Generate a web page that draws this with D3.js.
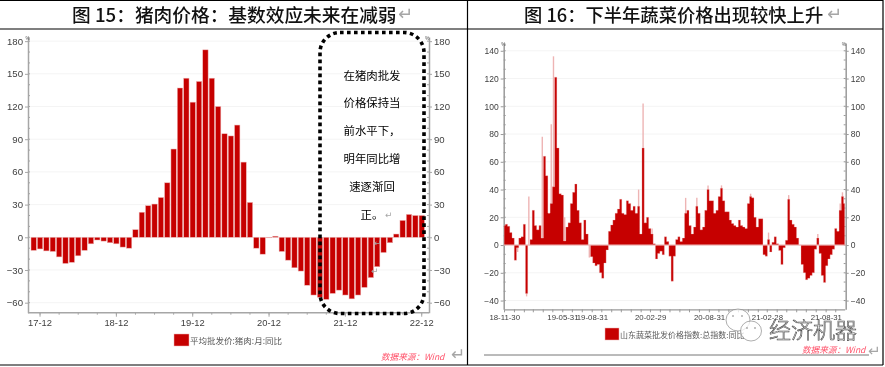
<!DOCTYPE html>
<html>
<head>
<meta charset="utf-8">
<script src="https://cdnjs.cloudflare.com/ajax/libs/d3/7.8.5/d3.min.js"></script>
<style>
	html, body { margin: 0; padding: 0; background: #fff; }
	svg { display: block; filter: blur(0.3px); }
	text { font-family: "Liberation Sans", "Noto Sans CJK SC", sans-serif; }
	.cjk { font-family: "Noto Sans CJK SC", sans-serif; }
	.arrow { font-family: "DejaVu Sans", sans-serif; fill: #a6a6a6; }
</style>
</head>
<body>
<svg id="chart" width="885" height="367"></svg>
<script>
// figure 15: pork wholesale price, monthly yoy
const porkMonths = [
	"17-11","17-12","18-01","18-02","18-03","18-04","18-05","18-06","18-07","18-08","18-09","18-10","18-11","18-12",
	"19-01","19-02","19-03","19-04","19-05","19-06","19-07","19-08","19-09","19-10","19-11","19-12",
	"20-01","20-02","20-03","20-04","20-05","20-06","20-07","20-08","20-09","20-10","20-11","20-12",
	"21-01","21-02","21-03","21-04","21-05","21-06","21-07","21-08","21-09","21-10","21-11","21-12",
	"22-01","22-02","22-03","22-04","22-05","22-06","22-07","22-08","22-09","22-10","22-11","22-12"
];
const porkValues = [
	-12,-10.7,-12.5,-13,-18,-24,-23,-17,-12,-6,-2.5,-3.5,-5,-6,
	-9,-10,7,23,29,30.5,36.5,50,81,137,146,124,
	143,172,146,120,95,93,103,69,32,-10,-15.5,-0.5,
	1,-13,-21,-28,-31,-44,-53,-55,-57,-51.5,-48.5,-53,
	-56.5,-53,-46,-37,-27,-14,-5,3,15.5,21,20,20
];
const porkTicks = [-60,-30,0,30,60,90,120,150,180];
const porkLabels = ["17-12","18-12","19-12","20-12","21-12","22-12"];
const noteLines = ["在猪肉批发","价格保持当","前水平下，","明年同比增","速逐渐回","正。"];

const vegStart = "2018-11-30";
const vegValues = [
	14,15,13.5,9,5,-11,-2,5,6,15,-35,0,4,25,14,11,14,5,
	64,50,23,30,42,121,70,37,36,3,13,16,30,38,44,25,16,4,
	18,8,0,-8.5,-13,-15,-14,-20,-24,-13,-3.5,10,14.5,18,23,26,33,23,22,32,30,25,28,23,
	28,8,70,16,20,12,8,1,-10,-6,-4.5,-7,6,2.5,-8,-26,-8,4,6,2.5,5,
	23,25,14,8,13,28,23,11,13,25,40,32,32,23,25,35,41,32,24,24,18,15.5,14,13,18,14,13,12,
	30,35,34,20,13,19,19,-7,-8,4,-5,2,6,1,-4,-14,-2,3.5,33,18,15,13,5,0,
	-14,-20,-25,-24,-22,-20,-3,5,-6,-22,-27,-15,-10,-7,-3,12,10,25,35,30
];
// short spikes that show up paler than the body of the area
const vegSpikeWeeks = [6,10,11,17,18,21,22,23,24,27,38,60,62,66,81,86,91,97,110,118,127,140,150,151];
const vegSpikeValues = [-5,-37,35,78,55,87,136,58,58,20,-9,40,102,12,34,34,43,43,37,9,36,8,30,38];
const vegTicks = [-40,-20,0,20,40,60,80,100,120,140];
const vegLabelDates = ["2018-11-30","2019-05-31","2019-08-31","2020-02-29","2020-08-31","2021-02-28","2021-08-31"];

const red = "#c60000";
const pale = "#eeb4b4";
const axisGrey = "#a6a6a6";
const labelGrey = "#404040";
const parseDay = d3.timeParse("%Y-%m-%d");
const svg = d3.select("#chart");

// left and right value axes with the grid between them, minor ticks on every third of a step
function drawValueAxes(g, y, ticks, left, right, top, bottom, fontSize, axisColor) {
	const step = ticks[1] - ticks[0];
	const minor = [];
	ticks.forEach((t) => { [0, 1, 2].forEach((k) => { minor.push(t + k * step / 3); }); });
	minor.push(ticks[0] - step / 3, ticks[0] - 2 * step / 3);
	const minorTicks = minor.filter((v) => v > y.domain()[0] && v < y.domain()[1]);

	g.append("g").selectAll("line").data(ticks).enter().append("line")
		.attr("x1", left).attr("x2", right)
		.attr("y1", (d) => y(d)).attr("y2", (d) => y(d))
		.attr("stroke", "#f4f4f4");

	[[left, d3.axisLeft, 2], [right, d3.axisRight, -2]].forEach((a) => {
		const ax = g.append("g").attr("transform", "translate(" + a[0] + ",0)")
			.call(a[1](y).tickValues(ticks).tickSizeInner(3).tickSizeOuter(0).tickPadding(2).tickFormat(d3.format("d")));
		ax.select(".domain").attr("stroke", axisColor).attr("stroke-width", 1.5);
		ax.selectAll(".tick line").attr("stroke", axisColor);
		ax.selectAll("text").attr("fill", labelGrey).attr("font-size", fontSize)
			.attr("font-family", "Liberation Sans");
		ax.append("g").selectAll("line").data(minorTicks).enter().append("line")
			.attr("x1", 0).attr("x2", a[2])
			.attr("y1", (d) => y(d)).attr("y2", (d) => y(d))
			.attr("stroke", axisColor);
		ax.append("text").attr("x", a[2] > 0 ? 2 : -4).attr("y", top + 3)
			.attr("font-size", 5).attr("fill", "#555").text("%");
	});
}

function drawFrame() {
	const lines = [
		[0, 0.5, 883, 0.5], [0, 29, 883, 29], [0, 365, 883, 365],
		[467.5, 0, 467.5, 365], [883, 0, 883, 365]
	];
	svg.append("g").selectAll("line").data(lines).enter().append("line")
		.attr("x1", (d) => d[0]).attr("y1", (d) => d[1])
		.attr("x2", (d) => d[2]).attr("y2", (d) => d[3])
		.attr("stroke", "#000").attr("stroke-width", 1.2);

	svg.append("text").attr("class", "cjk").attr("x", 72).attr("y", 22)
		.attr("font-size", 18.7).attr("font-weight", 500).attr("fill", "#111")
		.text("图 15：猪肉价格：基数效应未来在减弱");
	svg.append("text").attr("class", "arrow").attr("x", 398).attr("y", 20).attr("font-size", 18).text("↵");
	svg.append("text").attr("class", "cjk").attr("x", 524).attr("y", 22)
		.attr("font-size", 18.3).attr("font-weight", 500).attr("fill", "#111")
		.text("图 16：下半年蔬菜价格出现较快上升");
	svg.append("text").attr("class", "arrow").attr("x", 827).attr("y", 20).attr("font-size", 18).text("↵");
}

function drawPork() {
	const g = svg.append("g");
	const left = 28, right = 429, top = 37, bottom = 312.7;
	const y = d3.scaleLinear().domain([-69.2, 183.8]).range([bottom, top]);
	const x = d3.scaleBand().domain(porkMonths).range([30.5, 424.9]).paddingInner(0.16).paddingOuter(0.08);

	drawValueAxes(g, y, porkTicks, left, right, top, bottom, 9.6, axisGrey);

	g.append("g").selectAll("rect").data(porkMonths).enter().append("rect")
		.attr("x", (d) => x(d))
		.attr("width", x.bandwidth())
		.attr("y", (d, i) => y(Math.max(0, porkValues[i])))
		.attr("height", (d, i) => Math.abs(y(porkValues[i]) - y(0)))
		.attr("fill", red).attr("stroke", pale).attr("stroke-width", 0.5);

	const xAxis = g.append("g").attr("transform", "translate(0," + bottom + ")")
		.call(d3.axisBottom(x).tickValues(porkLabels).tickSize(4).tickPadding(3));
	xAxis.select(".domain").remove();
	xAxis.selectAll(".tick line").attr("stroke", axisGrey);
	xAxis.selectAll("text").attr("fill", labelGrey).attr("font-size", 9.4).attr("font-family", "Liberation Sans");
	xAxis.append("g").selectAll("line")
		.data(porkMonths.filter((m, i) => (i - 1) % 3 === 0)).enter().append("line")
		.attr("x1", (d) => x(d) + x.bandwidth() / 2).attr("x2", (d) => x(d) + x.bandwidth() / 2)
		.attr("y1", 0).attr("y2", 2).attr("stroke", axisGrey);
	g.append("line").attr("x1", left).attr("x2", right).attr("y1", bottom).attr("y2", bottom)
		.attr("stroke", axisGrey).attr("stroke-width", 1.5);

	g.append("rect").attr("x", 174).attr("y", 334).attr("width", 15).attr("height", 12)
		.attr("fill", red).attr("stroke", pale).attr("stroke-width", 0.5);
	g.append("text").attr("class", "cjk").attr("x", 190).attr("y", 343.5)
		.attr("font-size", 8.5).attr("fill", "#595959").text("平均批发价:猪肉:月:同比");

	// dotted call-out on top of the bars
	g.append("rect").attr("x", 320).attr("y", 32.5).attr("width", 104).attr("height", 281)
		.attr("rx", 20).attr("ry", 20)
		.attr("fill", "none").attr("stroke", "#000").attr("stroke-width", 3.6)
		.attr("stroke-dasharray", "3.6 3.4");
	g.append("g").selectAll("text").data(noteLines).enter().append("text")
		.attr("class", "cjk").attr("x", 372).attr("y", (d, i) => 79.5 + i * 27.9)
		.attr("text-anchor", "middle").attr("font-size", 11.4).attr("fill", "#000")
		.text((d) => d);

	[[385, 218, 9], [374, 246, 9], [371, 274, 9]].forEach((a) => {
		g.append("text").attr("class", "arrow").attr("x", a[0]).attr("y", a[1]).attr("font-size", a[2]).text("↵");
	});

	g.append("text").attr("class", "cjk").attr("x", 381).attr("y", 360)
		.attr("font-size", 8.6).attr("font-style", "italic").attr("fill", "#ff5068").text("数据来源：Wind");
	g.append("text").attr("class", "arrow").attr("x", 451).attr("y", 360).attr("font-size", 17).text("↵");
}

function drawVeg() {
	const g = svg.append("g");
	const left = 503.7, right = 845.7, top = 43, bottom = 309.3;
	const start = parseDay(vegStart);
	const y = d3.scaleLinear().domain([-46.3, 145.6]).range([bottom, top]);
	const x = d3.scaleTime().domain([start, d3.timeWeek.offset(start, vegValues.length - 1)]).range([left + 0.5, right - 1]);
	const weekDay = (i) => d3.timeWeek.offset(start, i);

	drawValueAxes(g, y, vegTicks, left, right, top, bottom, 8.5, "#9a9a9a");

	g.append("g").selectAll("line").data(vegSpikeWeeks).enter().append("line")
		.attr("x1", (d) => x(weekDay(d))).attr("x2", (d) => x(weekDay(d)))
		.attr("y1", y(0))
		.attr("y2", (d, i) => y(vegSpikeValues[i]))
		.attr("stroke", pale).attr("stroke-width", 1.4);

	const area = d3.area()
		.curve(d3.curveStep)
		.x((d, i) => x(weekDay(i)))
		.y0(y(0))
		.y1((d) => y(d));
	g.append("path").datum(vegValues).attr("d", area)
		.attr("fill", red).attr("stroke", pale).attr("stroke-width", 0.3);

	g.append("line").attr("x1", left).attr("x2", right).attr("y1", y(0)).attr("y2", y(0))
		.attr("stroke", pale);

	const monthTicks = d3.timeMonth.range(start, x.domain()[1]);
	const xAxis = g.append("g").attr("transform", "translate(0," + bottom + ")")
		.call(d3.axisBottom(x).tickValues(vegLabelDates.map(parseDay)).tickSize(0).tickSizeOuter(0).tickPadding(5)
			.tickFormat(d3.timeFormat("%y-%m-%d")));
	xAxis.select(".domain").attr("stroke", "#9a9a9a").attr("stroke-width", 1.2);
	xAxis.selectAll("text").attr("fill", labelGrey).attr("font-size", 7.8).attr("font-family", "Liberation Sans");
	xAxis.append("g").selectAll("line").data(monthTicks).enter().append("line")
		.attr("x1", (d) => x(d)).attr("x2", (d) => x(d))
		.attr("y1", 0).attr("y2", 3).attr("stroke", "#9a9a9a");

	g.append("rect").attr("x", 605).attr("y", 328).attr("width", 14).attr("height", 12)
		.attr("fill", red).attr("stroke", pale).attr("stroke-width", 0.5);
	g.append("text").attr("class", "cjk").attr("x", 620).attr("y", 337.5)
		.attr("font-size", 8).attr("fill", "#595959").text("山东蔬菜批发价格指数:总指数:同比");

	g.append("line").attr("x1", 484).attr("x2", 869).attr("y1", 355).attr("y2", 355)
		.attr("stroke", "#777").attr("stroke-width", 1);
	g.append("text").attr("class", "cjk").attr("x", 802).attr("y", 353)
		.attr("font-size", 8.6).attr("font-style", "italic").attr("fill", "#ff5068").text("数据来源：Wind");
	g.append("text").attr("class", "arrow").attr("x", 868).attr("y", 356).attr("font-size", 15).text("↵");
}

// account watermark, sits on top of the right chart's labels
function drawWatermark() {
	const g = svg.append("g");
	const bubbles = [[738, 320, 12, 11], [751, 331, 10.5, 10]];
	g.selectAll("ellipse").data(bubbles).enter().append("ellipse")
		.attr("cx", (d) => d[0]).attr("cy", (d) => d[1])
		.attr("rx", (d) => d[2]).attr("ry", (d) => d[3])
		.attr("fill", "rgba(255,255,255,0.75)").attr("stroke", "#777").attr("stroke-width", 0.6);
	g.selectAll("circle").data([[733, 316], [742, 316], [747, 328], [755, 328]]).enter().append("circle")
		.attr("cx", (d) => d[0]).attr("cy", (d) => d[1]).attr("r", 0.8).attr("fill", "#777");
	g.append("text").attr("class", "cjk").attr("x", 769).attr("y", 338)
		.attr("font-size", 22).attr("font-weight", 300)
		.attr("fill", "#fff").attr("stroke", "#444").attr("stroke-width", 0.6)
		.text("经济机器");
}

drawFrame();
drawPork();
drawVeg();
drawWatermark();
</script>
</body>
</html>
